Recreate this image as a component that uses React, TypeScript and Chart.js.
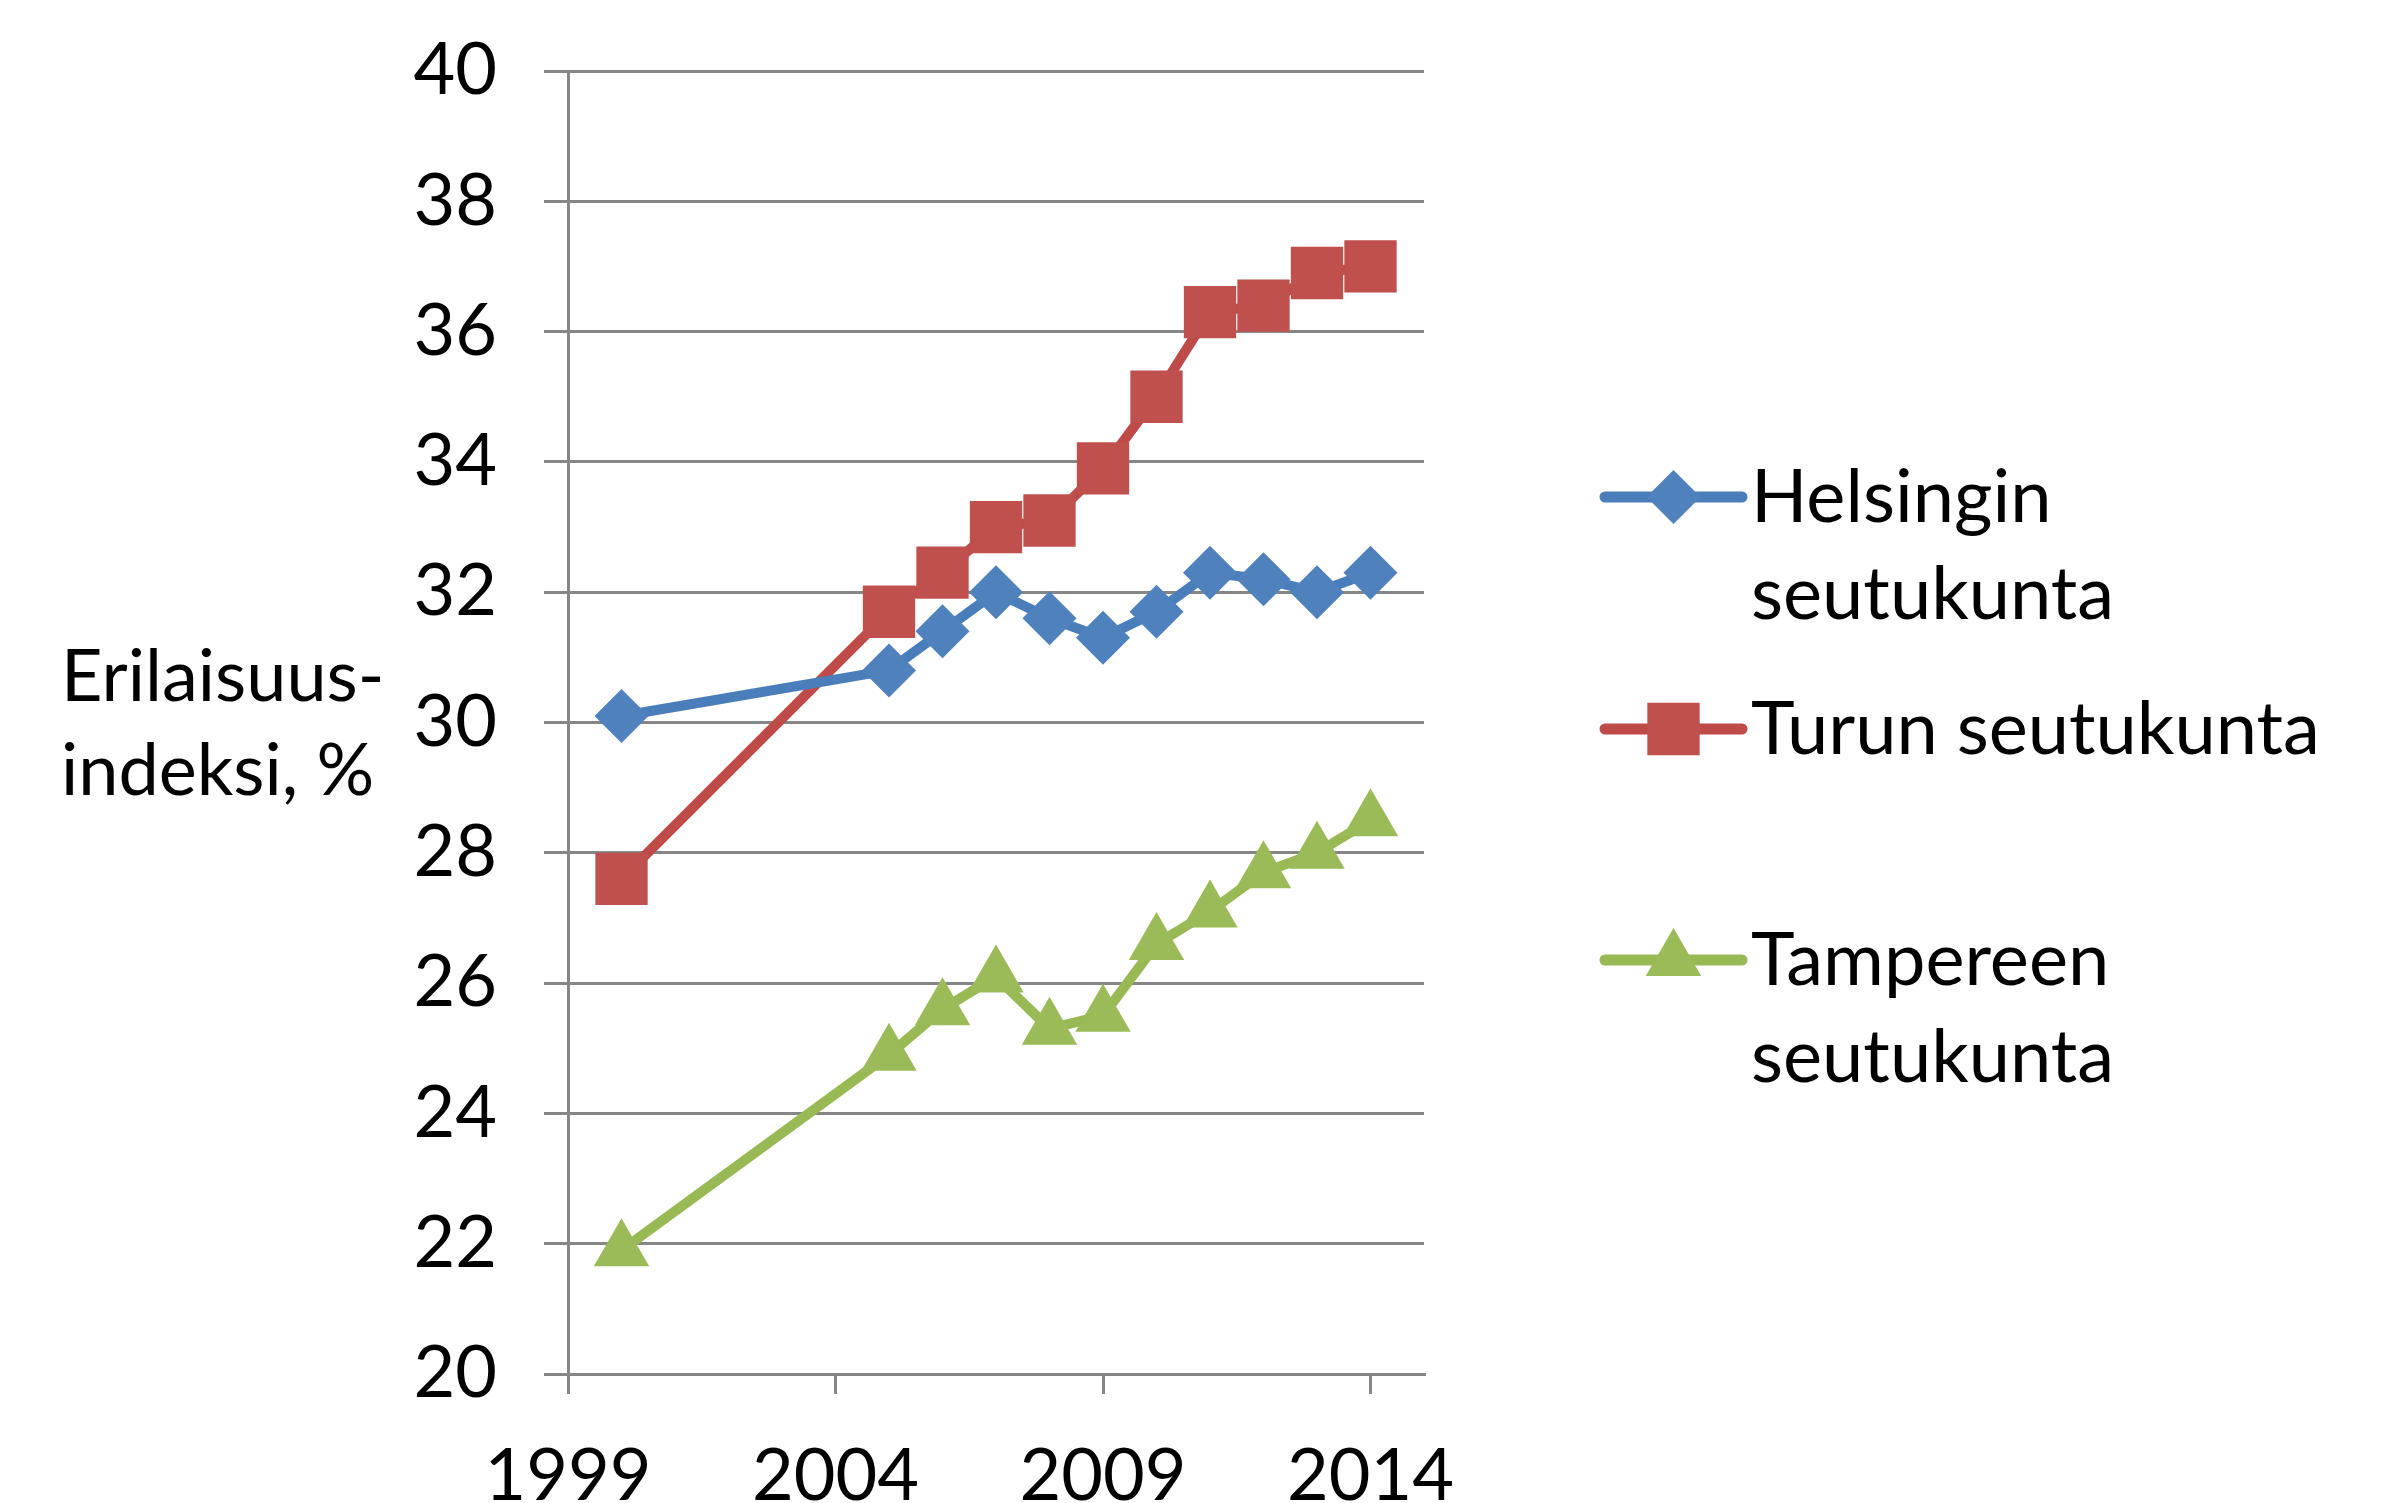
import React, { useEffect, useRef } from 'react';
import { Chart, registerables } from 'chart.js';

Chart.register(...registerables);

const years = [2000, 2005, 2006, 2007, 2008, 2009, 2010, 2011, 2012, 2013, 2014];
const helsinki = [30.1, 30.8, 31.4, 32.0, 31.6, 31.3, 31.7, 32.3, 32.2, 32.0, 32.3];
const turku = [27.6, 31.7, 32.3, 33.0, 33.1, 33.9, 35.0, 36.3, 36.4, 36.9, 37.0];
const tampere = [21.9, 24.9, 25.6, 26.1, 25.3, 25.5, 26.6, 27.1, 27.7, 28.0, 28.5];
const seriesLabels = [['Helsingin', 'seutukunta'], ['Turun seutukunta'], ['Tampereen', 'seutukunta']];
const xTickValues = [1999, 2004, 2009, 2014];
const yTitleLines = ['Erilaisuus-', 'indeksi, %'];

const FONT = 'Lato';
const FS = 72;
const LFS = 74;
const GRID = '#868686';
const lineColors = ['#4A7EBB', '#BE4B48', '#98B954'];
const markerColors = ['#4F81BD', '#C0504D', '#9BBB59'];
const markerStyles = ['rectRot', 'rect', 'triangle'];
const markerRadius = [27, 37, 32];

function drawMarker(ctx: CanvasRenderingContext2D, style: string, x: number, y: number, r: number) {
  ctx.beginPath();
  if (style === 'rectRot') {
    ctx.moveTo(x, y - r);
    ctx.lineTo(x + r, y);
    ctx.lineTo(x, y + r);
    ctx.lineTo(x - r, y);
  } else if (style === 'rect') {
    const s = r * Math.SQRT1_2;
    ctx.rect(x - s, y - s, 2 * s, 2 * s);
  } else {
    const w = r * Math.sqrt(3) / 2;
    ctx.moveTo(x, y - r);
    ctx.lineTo(x + w, y + r / 2);
    ctx.lineTo(x - w, y + r / 2);
  }
  ctx.closePath();
  ctx.fill();
}

const overlayPlugin = {
  id: 'overlay',
  afterDraw(chart: any) {
    const ctx: CanvasRenderingContext2D = chart.ctx;
    ctx.save();
    ctx.font = `${FS}px ${FONT}`;
    ctx.fillStyle = '#000';
    ctx.textBaseline = 'alphabetic';
    ctx.textAlign = 'left';
    yTitleLines.forEach((t, i) => ctx.fillText(t, 61, 701 + i * 94));

    ctx.font = `${LFS}px ${FONT}`;
    const lx0 = 1605, lx1 = 1742, tx = 1751;
    const rowY = [497, 729, 960];
    const lineGap = 97;
    seriesLabels.forEach((lines, i) => {
      const y = rowY[i];
      ctx.strokeStyle = lineColors[i];
      ctx.lineWidth = 11;
      ctx.lineCap = 'round';
      ctx.beginPath();
      ctx.moveTo(lx0, y);
      ctx.lineTo(lx1, y);
      ctx.stroke();
      ctx.fillStyle = markerColors[i];
      drawMarker(ctx, markerStyles[i], (lx0 + lx1) / 2, y, markerRadius[i]);
      ctx.fillStyle = '#000';
      lines.forEach((t, j) => ctx.fillText(t, tx, y + 25 + j * lineGap));
    });
    ctx.restore();
  },
};

export default function App() {
  const ref = useRef<HTMLCanvasElement>(null);
  useEffect(() => {
    const canvas = ref.current!;
    const mk = (vals: number[], i: number, label: string) => ({
      label,
      data: years.map((y, k) => ({ x: y, y: vals[k] })),
      borderColor: lineColors[i],
      backgroundColor: markerColors[i],
      borderWidth: 10,
      pointStyle: markerStyles[i],
      pointRadius: markerRadius[i],
      pointBackgroundColor: markerColors[i],
      pointBorderColor: markerColors[i],
      pointBorderWidth: 0,
      tension: 0,
    });
    const chart = new Chart(canvas, {
      type: 'line',
      data: {
        datasets: [
          mk(helsinki, 0, seriesLabels[0].join(' ')),
          mk(turku, 1, seriesLabels[1].join(' ')),
          mk(tampere, 2, seriesLabels[2].join(' ')),
        ],
      },
      options: {
        animation: false,
        responsive: false,
        events: [],
        layout: { padding: { left: 0, top: 71, right: 957, bottom: 0 } },
        plugins: { legend: { display: false }, tooltip: { enabled: false } },
        scales: {
          x: {
            type: 'linear',
            min: 1999,
            max: 2015,
            afterBuildTicks: (s: any) => {
              s.ticks = xTickValues.map((v) => ({ value: v }));
            },
            afterFit: (s: any) => {
              s.height = 129;
            },
            grid: { drawOnChartArea: false, drawTicks: true, tickLength: 20, color: GRID, lineWidth: 3 },
            border: { display: true, color: GRID, width: 3 },
            ticks: {
              autoSkip: false,
              maxRotation: 0,
              padding: 40,
              color: '#000',
              font: { family: FONT, size: FS },
              callback: (v: any) => String(v),
            },
          },
          y: {
            min: 20,
            max: 40,
            afterFit: (s: any) => {
              s.width = 568;
            },
            grid: { color: GRID, lineWidth: 3, tickLength: 24 },
            border: { display: true, color: GRID, width: 3 },
            ticks: {
              stepSize: 2,
              padding: 47,
              color: '#000',
              font: { family: FONT, size: FS, lineHeight: 0.6 },
            },
          },
        },
      },
      plugins: [overlayPlugin],
    });
    return () => chart.destroy();
  }, []);
  return (
    <div style={{ position: 'fixed', left: 0, top: 0, width: 2381, height: 1503, background: '#fff' }}>
      <canvas ref={ref} width={2381} height={1503} style={{ display: 'block' }} />
    </div>
  );
}
